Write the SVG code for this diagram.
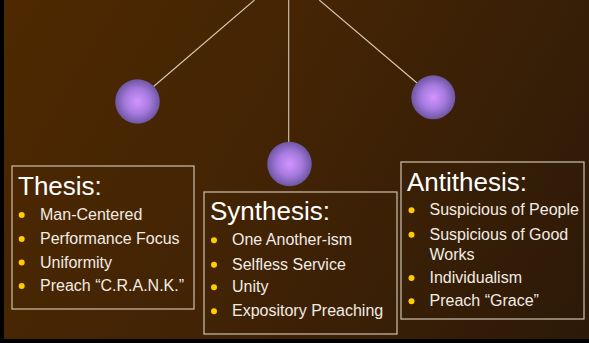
<svg xmlns="http://www.w3.org/2000/svg" width="589" height="343" viewBox="0 0 589 343">
  <defs>
    <linearGradient id="bg" x1="0" y1="0" x2="589" y2="343" gradientUnits="userSpaceOnUse">
      <stop offset="0" stop-color="#4E2900"/>
      <stop offset="0.5" stop-color="#412305"/>
      <stop offset="1" stop-color="#2C1908"/>
    </linearGradient>
    <radialGradient id="ball" cx="0.5" cy="0.5" r="0.5">
      <stop offset="0" stop-color="#D394FF"/>
      <stop offset="0.55" stop-color="#A67ADF"/>
      <stop offset="1" stop-color="#6E56A2"/>
    </radialGradient>
  </defs>
  <style>
    .box { fill: none; stroke: #CFC2AE; stroke-width: 1.2; }
    .title { font-family: "Liberation Sans", Arial, sans-serif; font-size: 26px; fill: #FFFFFF; }
    .item { font-family: "Liberation Sans", Arial, sans-serif; font-size: 16px; fill: #F2ECE4; }
    .dot { fill: #FFCC00; }
    .conn { stroke: #D8C9B2; stroke-width: 1.1; fill: none; }
    .ball { fill: url(#ball); }
  </style>
  <rect x="0" y="0" width="589" height="343" fill="url(#bg)"/>
  <rect x="0" y="0" width="4" height="343" fill="#000000"/>
  <rect x="0" y="339" width="589" height="4" fill="#000000"/>

  <g id="connectors">
    <line class="conn" x1="254.5" y1="0" x2="153" y2="87"/>
    <line class="conn" x1="288.7" y1="0" x2="288.7" y2="143"/>
    <line class="conn" x1="319.3" y1="0" x2="417" y2="83"/>
  </g>

  <g id="ball-thesis"><circle class="ball" cx="137.5" cy="101.5" r="22.3"/></g>
  <g id="ball-synthesis"><circle class="ball" cx="289.5" cy="164" r="22.3"/></g>
  <g id="ball-antithesis"><circle class="ball" cx="433.3" cy="97.3" r="22"/></g>

  <g id="thesis">
    <rect class="box" x="12" y="166" width="182" height="143"/>
    <text class="title" x="18" y="195">Thesis:</text>
    <circle class="dot" cx="21.7" cy="215" r="3"/>
    <text class="item" x="40" y="220">Man-Centered</text>
    <circle class="dot" cx="21.7" cy="239" r="3"/>
    <text class="item" x="40" y="244">Performance Focus</text>
    <circle class="dot" cx="21.7" cy="262.5" r="3"/>
    <text class="item" x="40" y="267.5">Uniformity</text>
    <circle class="dot" cx="21.7" cy="286" r="3"/>
    <text class="item" x="40" y="291">Preach “C.R.A.N.K.”</text>
  </g>

  <g id="synthesis">
    <rect class="box" x="204" y="192" width="193" height="142"/>
    <text class="title" x="210" y="220">Synthesis:</text>
    <circle class="dot" cx="214" cy="240.3" r="3"/>
    <text class="item" x="232" y="245.3">One Another-ism</text>
    <circle class="dot" cx="214" cy="264.7" r="3"/>
    <text class="item" x="232" y="269.7">Selfless Service</text>
    <circle class="dot" cx="214" cy="287.3" r="3"/>
    <text class="item" x="232" y="292.3">Unity</text>
    <circle class="dot" cx="214" cy="311.3" r="3"/>
    <text class="item" x="232" y="316.3">Expository Preaching</text>
  </g>

  <g id="antithesis">
    <rect class="box" x="401" y="162" width="183" height="157"/>
    <text class="title" x="407" y="190.5">Antithesis:</text>
    <circle class="dot" cx="411.5" cy="210.3" r="3"/>
    <text class="item" x="429.5" y="215.3">Suspicious of People</text>
    <circle class="dot" cx="411.5" cy="234.7" r="3"/>
    <text class="item" x="429.5" y="239.7">Suspicious of Good</text>
    <text class="item" x="429.5" y="259.5">Works</text>
    <circle class="dot" cx="411.5" cy="278" r="3"/>
    <text class="item" x="429.5" y="283">Individualism</text>
    <circle class="dot" cx="411.5" cy="301.3" r="3"/>
    <text class="item" x="429.5" y="306.3">Preach “Grace”</text>
  </g>
</svg>
